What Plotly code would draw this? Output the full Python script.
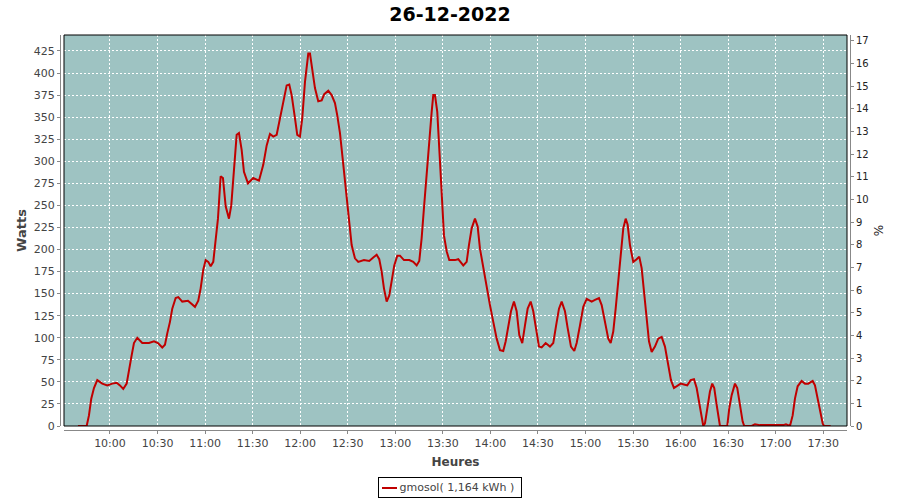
import plotly.graph_objects as go

DAY = "2022-12-26 "
times = [
    "09:39:48", "09:45:18", "09:46:45", "09:48:12", "09:49:54", "09:52:00", "09:55:08", "09:58:18",
    "10:01:27", "10:04:14", "10:06:18", "10:08:23", "10:10:32", "10:11:59", "10:13:41", "10:15:08",
    "10:17:13", "10:20:23", "10:24:37", "10:27:46", "10:30:17", "10:33:00", "10:34:42", "10:36:09",
    "10:37:51", "10:39:18", "10:41:27", "10:43:05", "10:45:37", "10:49:13", "10:51:55", "10:53:38",
    "10:55:43", "10:57:13", "10:58:52", "11:00:23", "11:02:01", "11:03:32", "11:05:10", "11:06:41",
    "11:08:08", "11:09:50", "11:11:17", "11:13:00", "11:15:05", "11:16:32", "11:18:14", "11:19:56",
    "11:21:23", "11:23:05", "11:24:32", "11:27:04", "11:30:25", "11:34:01", "11:36:43", "11:38:52",
    "11:40:57", "11:43:02", "11:45:10", "11:47:15", "11:49:20", "11:51:29", "11:53:07", "11:54:38",
    "11:56:43", "11:58:10", "11:59:52", "12:01:19", "12:03:02", "12:05:07", "12:06:11", "12:07:53",
    "12:09:20", "12:11:25", "12:13:34", "12:15:12", "12:17:44", "12:19:52", "12:21:57", "12:23:24",
    "12:25:07", "12:26:49", "12:28:16", "12:29:43", "12:30:59", "12:32:29", "12:34:34", "12:36:39",
    "12:40:15", "12:43:35", "12:46:07", "12:48:16", "12:49:54", "12:51:25", "12:52:52", "12:54:34",
    "12:56:13", "12:57:44", "12:59:22", "13:01:16", "13:02:58", "13:05:29", "13:08:50", "13:11:21",
    "13:13:30", "13:15:08", "13:16:39", "13:18:06", "13:19:49", "13:21:27", "13:22:58", "13:23:58",
    "13:25:03", "13:26:30", "13:28:12", "13:29:39", "13:30:43", "13:32:25", "13:34:04", "13:37:40",
    "13:39:44", "13:42:54", "13:45:02", "13:46:29", "13:48:12", "13:50:17", "13:51:59", "13:53:26",
    "13:55:31", "13:57:40", "13:59:45", "14:01:50", "14:03:59", "14:06:04", "14:08:08", "14:09:40",
    "14:11:18", "14:13:00", "14:14:53", "14:16:35", "14:18:14", "14:20:07", "14:21:50", "14:23:32",
    "14:25:25", "14:27:04", "14:28:46", "14:30:40", "14:32:22", "14:34:53", "14:37:36", "14:39:41",
    "14:41:23", "14:43:17", "14:44:59", "14:47:04", "14:48:46", "14:50:51", "14:52:56", "14:54:27",
    "14:56:32", "14:58:37", "15:00:46", "15:03:55", "15:05:59", "15:08:31", "15:10:13", "15:12:18",
    "15:14:23", "15:15:54", "15:17:32", "15:19:03", "15:20:41", "15:22:13", "15:23:51", "15:25:22",
    "15:26:37", "15:28:04", "15:30:09", "15:32:18", "15:33:56", "15:35:27", "15:37:05", "15:38:37",
    "15:40:04", "15:41:46", "15:43:50", "15:45:55", "15:48:04", "15:50:09", "15:52:14", "15:53:56",
    "15:55:50", "15:57:55", "16:00:04", "16:02:08", "16:04:13", "16:06:22", "16:08:27", "16:10:09",
    "16:11:47", "16:13:18", "16:14:19", "16:15:23", "16:16:50", "16:18:32", "16:19:59", "16:21:15",
    "16:22:46", "16:24:13", "16:24:51", "16:29:27", "16:30:43", "16:32:14", "16:34:19", "16:35:46",
    "16:37:28", "16:39:10", "16:40:11", "16:44:51", "16:46:56", "16:50:05", "17:04:47", "17:06:29",
    "17:09:01", "17:10:43", "17:12:10", "17:13:52", "17:16:23", "17:18:29", "17:20:34", "17:23:20",
    "17:24:47", "17:26:29", "17:27:56", "17:29:39", "17:30:28", "17:34:42",
]
watts = [
    0, 0, 12, 31, 43, 52, 48, 46,
    48, 49, 46, 42, 48, 65, 80, 94,
    100, 94, 94, 96, 94, 89, 92, 105,
    118, 133, 145, 146, 141, 142, 138, 135,
    142, 156, 177, 188, 186, 181, 186, 209,
    235, 283, 281, 249, 235, 250, 292, 330,
    332, 313, 288, 275, 281, 278, 296, 318,
    331, 328, 330, 349, 369, 386, 387, 375,
    349, 330, 328, 349, 390, 422, 422, 402,
    383, 368, 369, 376, 380, 375, 366, 352,
    332, 303, 277, 250, 224, 205, 190, 186,
    188, 187, 191, 194, 189, 175, 156, 141,
    148, 167, 182, 193, 193, 188, 188, 186,
    182, 187, 213, 247, 281, 322, 356, 375,
    375, 356, 300, 247, 216, 198, 188, 188,
    189, 182, 186, 205, 224, 235, 226, 201,
    179, 160, 137, 118, 99, 86, 85, 96,
    114, 130, 141, 130, 103, 94, 114, 133,
    141, 130, 111, 90, 89, 94, 90, 94,
    113, 133, 141, 130, 111, 90, 85, 94,
    114, 135, 144, 141, 143, 145, 137, 118,
    99, 94, 107, 133, 164, 201, 224, 235,
    228, 205, 186, 189, 192, 179, 148, 118,
    96, 84, 90, 99, 101, 90, 69, 52,
    43, 45, 48, 47, 46, 52, 53, 43,
    24, 9, 0, 3, 20, 39, 48, 43,
    24, 5, 0, 0, 20, 35, 48, 43,
    24, 5, 0, 0, 2, 1, 1, 2,
    0, 12, 31, 45, 51, 48, 48, 51,
    46, 31, 16, 3, 0, 0,
]

title_text = "26-12-2022"
series_name = "gmosol( 1,164 kWh )"
x_ticks_start = "10:00"
x_range = ["09:31:00", "17:45:00"]
y_range = [0, 443.1]
y2_range = [0, 17.26]

x = [DAY + t for t in times]

FONT = "DejaVu Sans"
TXT = "#444444"
AX = "#888888"
RED = "#c00000"

fig = go.Figure()
fig.add_trace(go.Scatter(
    x=x, y=watts, mode="lines", name=series_name,
    line=dict(color=RED, width=2, shape="linear"),
    showlegend=False,
))
fig.add_trace(go.Scatter(
    x=[x[0]], y=[0], mode="markers", yaxis="y2",
    marker=dict(opacity=0), showlegend=False, hoverinfo="skip",
))

W, H = 900, 500
ml, mr, mt, mb = 56, 46, 35, 70
pw, ph = W - ml - mr, H - mt - mb
px_l, px_r, px_b = 64, 847, 426
dx0 = (px_l - ml) / pw
dx1 = (px_r - ml) / pw
dy0 = (H - mb - px_b) / ph


def pxx(p):
    return (p - ml) / pw


def pxy(p):
    return (H - mb - p) / ph


leg_y = 488
fig.update_layout(
    width=W, height=H,
    margin=dict(l=ml, r=mr, t=mt, b=mb, autoexpand=False),
    paper_bgcolor="white",
    plot_bgcolor="#9ec3c2",
    font=dict(family=FONT, size=11, color=TXT),
    title=dict(text="<b>" + title_text + "</b>", x=0.5, xanchor="center",
               y=1 - 14 / H, yanchor="middle", yref="container",
               font=dict(family=FONT, size=19, color="#000000")),
    showlegend=False,
    xaxis=dict(
        type="date", domain=[dx0, dx1], anchor="free", position=0,
        range=[DAY + x_range[0], DAY + x_range[1]],
        tick0=DAY + x_ticks_start, dtick=30 * 60 * 1000, tickformat="%H:%M",
        showgrid=True, gridcolor="white", griddash="2px,2px", gridwidth=1,
        showline=True, linecolor=AX, linewidth=1,
        ticks="outside", ticklen=3, tickcolor=AX,
        tickfont=dict(family=FONT, size=11, color=TXT),
        title=dict(text="<b>Heures</b>", standoff=8,
                   font=dict(family=FONT, size=12, color=TXT)),
        zeroline=False,
    ),
    yaxis=dict(
        domain=[dy0, 1], anchor="free", position=dx0 - 4 / pw,
        range=y_range, dtick=25, tick0=0,
        showgrid=True, gridcolor="white", griddash="2px,2px", gridwidth=1,
        showline=True, linecolor=AX, linewidth=1,
        ticks="outside", ticklen=3, tickcolor=AX,
        tickfont=dict(family=FONT, size=11, color=TXT),
        title=dict(text="<b>Watts</b>", standoff=3,
                   font=dict(family=FONT, size=13, color=TXT)),
        zeroline=False,
    ),
    yaxis2=dict(
        overlaying="y", side="right", anchor="free", position=dx1 + 3 / pw,
        range=y2_range, dtick=1, tick0=0,
        showgrid=False, showline=True, linecolor=AX, linewidth=1,
        ticks="outside", ticklen=3, tickcolor=AX,
        tickfont=dict(family=FONT, size=10, color="#222222"),
        title=dict(text="%", standoff=6,
                   font=dict(family=FONT, size=12, color="#222222")),
        zeroline=False,
    ),
    shapes=[
        dict(type="rect", xref="paper", yref="paper",
             x0=dx0, x1=dx1, y0=dy0, y1=1,
             line=dict(color="black", width=1), layer="above"),
        dict(type="line", xref="paper", yref="paper",
             x0=pxx(382), x1=pxx(397), y0=pxy(leg_y), y1=pxy(leg_y),
             line=dict(color=RED, width=2), layer="above"),
    ],
    annotations=[
        dict(text="&nbsp;&nbsp;&nbsp;&nbsp;&nbsp;" + series_name + "&nbsp;",
             xref="paper", yref="paper", x=pxx(450), y=pxy(leg_y),
             xanchor="center", yanchor="middle", showarrow=False,
             bordercolor="black", borderwidth=1, borderpad=3,
             bgcolor="rgba(0,0,0,0)",
             font=dict(family=FONT, size=11, color=TXT)),
    ],
)

fig.write_html(
    "out.html",
    config={"displayModeBar": False},
    post_script="document.body.style.margin='0';document.body.style.overflow='hidden';",
)
